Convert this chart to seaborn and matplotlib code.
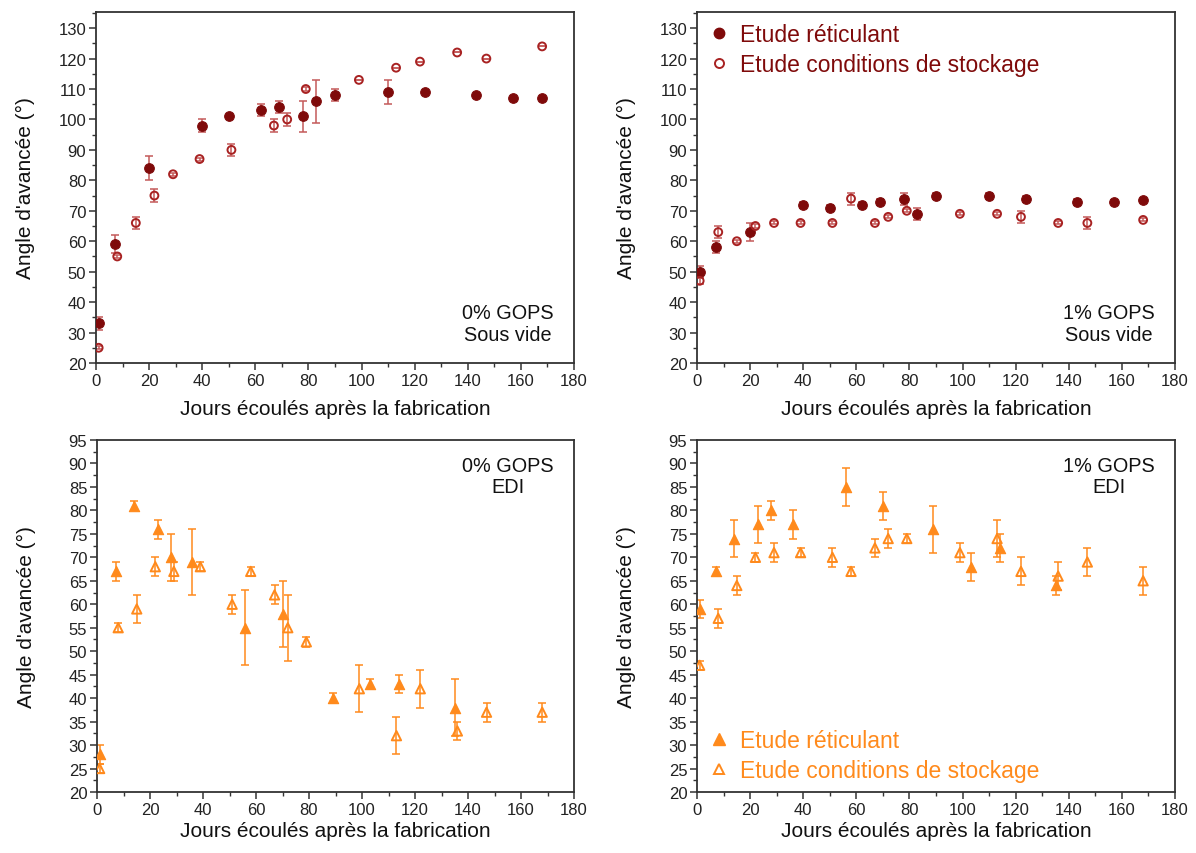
import numpy as np
import pandas as pd
import matplotlib
matplotlib.use("Agg")
import matplotlib.pyplot as plt
from matplotlib.ticker import MultipleLocator
from matplotlib.lines import Line2D
import seaborn as sns

sns.set_theme(style="ticks")
plt.rcParams['font.family'] = ['Liberation Sans', 'DejaVu Sans']

# ---------------- data ----------------
# 0% GOPS, Sous vide
tl_ret_x = [1, 7, 20, 40, 50, 62, 69, 78, 83, 90, 110, 124, 143, 157, 168]
tl_ret_y = [33, 59, 84, 98, 101, 103, 104, 101, 106, 108, 109, 109, 108, 107, 107]
tl_ret_e = [2, 3, 4, 2, 0.5, 2, 2, 5, 7, 2, 4, 0, 0, 0, 0]
tl_sto_x = [1, 8, 15, 22, 29, 39, 51, 67, 72, 79, 99, 113, 122, 136, 147, 168]
tl_sto_y = [25, 55, 66, 75, 82, 87, 90, 98, 100, 110, 113, 117, 119, 122, 120, 124]
tl_sto_e = [0.5, 0.5, 2, 2, 0.5, 0.5, 2, 2, 2, 0.5, 0, 0, 0, 0, 0, 0]

# 1% GOPS, Sous vide
tr_ret_x = [1, 7, 20, 40, 50, 62, 69, 78, 83, 90, 110, 124, 143, 157, 168]
tr_ret_y = [50, 58, 63, 72, 71, 72, 73, 74, 69, 75, 75, 74, 73, 73, 73.5]
tr_ret_e = [2, 2, 3, 1, 1, 1, 1, 2, 2, 1, 1, 1, 1, 0.5, 0.5]
tr_sto_x = [1, 8, 15, 22, 29, 39, 51, 58, 67, 72, 79, 99, 113, 122, 136, 147, 168]
tr_sto_y = [47, 63, 60, 65, 66, 66, 66, 74, 66, 68, 70, 69, 69, 68, 66, 66, 67]
tr_sto_e = [1, 2, 0.5, 0.5, 0.5, 0.5, 0.5, 2, 0.5, 0.5, 0.5, 0.5, 0.5, 2, 0.5, 2, 0.5]

# 0% GOPS, EDI
bl_ret_x = [1, 7, 14, 23, 28, 36, 56, 70, 89, 103, 114, 135]
bl_ret_y = [28, 67, 81, 76, 70, 69, 55, 58, 40, 43, 43, 38]
bl_ret_e = [2, 2, 1, 2, 5, 7, 8, 7, 1, 1, 2, 6]
bl_sto_x = [1, 8, 15, 22, 29, 39, 51, 58, 67, 72, 79, 99, 113, 122, 136, 147, 168]
bl_sto_y = [25, 55, 59, 68, 67, 68, 60, 67, 62, 55, 52, 42, 32, 42, 33, 37, 37]
bl_sto_e = [1, 1, 3, 2, 2, 1, 2, 1, 2, 7, 1, 5, 4, 4, 2, 2, 2]

# 1% GOPS, EDI
br_ret_x = [1, 7, 14, 23, 28, 36, 56, 70, 89, 103, 114, 135]
br_ret_y = [59, 67, 74, 77, 80, 77, 85, 81, 76, 68, 72, 64]
br_ret_e = [2, 1, 4, 4, 2, 3, 4, 3, 5, 3, 3, 2]
br_sto_x = [1, 8, 15, 22, 29, 39, 51, 58, 67, 72, 79, 99, 113, 122, 136, 147, 168]
br_sto_y = [47, 57, 64, 70, 71, 71, 70, 67, 72, 74, 74, 71, 74, 67, 66, 69, 65]
br_sto_e = [1, 2, 2, 1, 2, 1, 2, 1, 2, 2, 1, 2, 4, 3, 3, 3, 3]

labels = ["Etude réticulant", "Etude conditions de stockage"]
x_label = "Jours écoulés après la fabrication"
y_label = "Angle d'avancée (°)"

RED_F = "#7f0a0a"
RED_O = "#a82222"
RED_E = "#c45a5a"
ORA = "#ff8a1c"

W, H = 1196, 854
fig = plt.figure(figsize=(W / 100, H / 100), dpi=100)


def add_ax(l, r, t, b):
    return fig.add_axes([l / W, 1 - b / H, (r - l) / W, (b - t) / H])


ax_tl = add_ax(96, 574, 13, 364)
ax_tr = add_ax(697, 1175, 13, 364)
ax_bl = add_ax(97, 574, 441, 793)
ax_br = add_ax(697, 1175, 441, 793)


def draw(ax, rx, ry, re, sx, sy, se, filled_marker, open_marker, fcol, ocol, ecol, fs, osz):
    ax.errorbar(rx, ry, yerr=re, fmt='none', ecolor=ecol, elinewidth=1.1,
                capsize=3, capthick=1.1, zorder=2)
    ax.errorbar(sx, sy, yerr=se, fmt='none', ecolor=ecol, elinewidth=1.1,
                capsize=3, capthick=1.1, zorder=2)
    sns.scatterplot(x=rx, y=ry, ax=ax, marker=filled_marker, s=fs,
                    color=fcol, edgecolor=fcol, linewidth=0.8, zorder=3, legend=False)
    sns.scatterplot(x=sx, y=sy, ax=ax, marker=open_marker, s=osz,
                    facecolors='none', edgecolor=ocol, linewidth=1.4, zorder=4, legend=False)


draw(ax_tl, tl_ret_x, tl_ret_y, tl_ret_e, tl_sto_x, tl_sto_y, tl_sto_e, 'o', 'o', RED_F, RED_O, RED_E, 48, 32)
draw(ax_tr, tr_ret_x, tr_ret_y, tr_ret_e, tr_sto_x, tr_sto_y, tr_sto_e, 'o', 'o', RED_F, RED_O, RED_E, 48, 32)
draw(ax_bl, bl_ret_x, bl_ret_y, bl_ret_e, bl_sto_x, bl_sto_y, bl_sto_e, '^', '^', ORA, ORA, ORA, 55, 45)
draw(ax_br, br_ret_x, br_ret_y, br_ret_e, br_sto_x, br_sto_y, br_sto_e, '^', '^', ORA, ORA, ORA, 55, 45)

for ax, top in [(ax_tl, True), (ax_tr, True), (ax_bl, False), (ax_br, False)]:
    ax.set_xlim(0, 180)
    ax.xaxis.set_major_locator(MultipleLocator(20))
    ax.xaxis.set_minor_locator(MultipleLocator(10))
    if top:
        ax.set_ylim(20, 135.3)
        ax.set_yticks(np.arange(20, 131, 10))
        ax.yaxis.set_minor_locator(MultipleLocator(5))
    else:
        ax.set_ylim(20, 95)
        ax.set_yticks(np.arange(20, 96, 5))
        ax.yaxis.set_minor_locator(MultipleLocator(2.5))
    for sp in ax.spines.values():
        sp.set_visible(True)
        sp.set_linewidth(1.3)
        sp.set_color("#333333")
    ax.tick_params(which='major', direction='out', length=5, width=1.1, color="#333333",
                   labelsize=12, labelcolor="#222222", pad=2)
    ax.tick_params(which='minor', direction='out', length=3, width=1.0, color="#333333")
    ax.set_xlabel(x_label, fontsize=15, color="#111111", labelpad=8 if top else 3)
    ax.set_ylabel(y_label, fontsize=15, color="#111111")
    ax.yaxis.set_label_coords(-0.128, 0.5)

ann_kw = dict(fontsize=14.3, color="#111111", multialignment='center', linespacing=1.15)
ax_tl.text(0.957, 0.055, "0% GOPS\nSous vide", transform=ax_tl.transAxes, ha='right', va='bottom', **ann_kw)
ax_tr.text(0.957, 0.055, "1% GOPS\nSous vide", transform=ax_tr.transAxes, ha='right', va='bottom', **ann_kw)
ax_bl.text(0.957, 0.955, "0% GOPS\nEDI", transform=ax_bl.transAxes, ha='right', va='top', **ann_kw)
ax_br.text(0.957, 0.955, "1% GOPS\nEDI", transform=ax_br.transAxes, ha='right', va='top', **ann_kw)

h_red = [Line2D([], [], ls='none', marker='o', ms=7.5, color=RED_F),
         Line2D([], [], ls='none', marker='o', ms=6.5, mfc='none', mec=RED_O, mew=1.4)]
leg = ax_tr.legend(h_red, labels, loc='upper left', bbox_to_anchor=(-0.017, 1.015), frameon=False,
                   fontsize=16.5, handletextpad=0.35, labelspacing=0.3, handlelength=1.2,
                   borderaxespad=0.3)
for t in leg.get_texts():
    t.set_color(RED_F)

h_ora = [Line2D([], [], ls='none', marker='^', ms=8, color=ORA),
         Line2D([], [], ls='none', marker='^', ms=7.5, mfc='none', mec=ORA, mew=1.4)]
leg2 = ax_br.legend(h_ora, labels, loc='lower left', bbox_to_anchor=(-0.017, -0.017), frameon=False,
                    fontsize=16.5, handletextpad=0.35, labelspacing=0.3, handlelength=1.2,
                    borderaxespad=0.3)
for t in leg2.get_texts():
    t.set_color(ORA)

fig.savefig("out.png", dpi=100)
